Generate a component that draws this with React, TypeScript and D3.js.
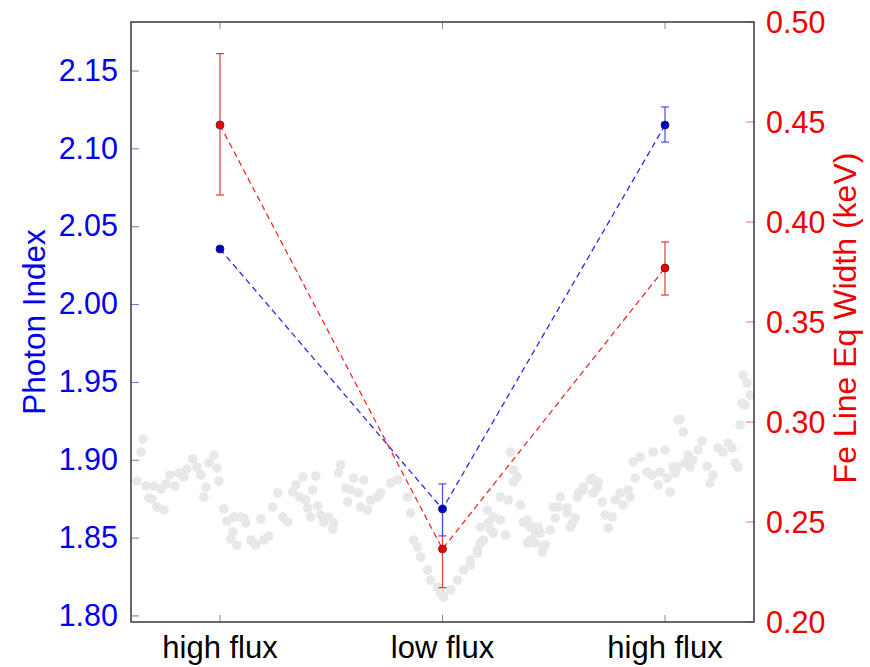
import React from "react";
import * as d3 from "d3";

const categories = ["high flux", "low flux", "high flux"];
const photonIndex = [2.0357, 1.8687, 2.1153];
const photonErrLow = [0.001, 0.0173, 0.0109];
const photonErrHigh = [0.001, 0.0161, 0.0116];
const feWidth = [0.4485, 0.2365, 0.377];
const feErrLow = [0.035, 0.0193, 0.0135];
const feErrHigh = [0.0357, 0.0193, 0.013];
const leftTicks = [1.8, 1.85, 1.9, 1.95, 2.0, 2.05, 2.1, 2.15];
const rightTicks = [0.2, 0.25, 0.3, 0.35, 0.4, 0.45, 0.5];

// faint background light curve (arbitrary time / rate units)
const bgTime = [12,10,6,15,23,30,18,21,26,33,35,39,44,48,53,56,62,66,70,83,78,86,88,75,73,93,96,102,100,106,110,123,103,
113,115,120,125,133,138,130,142,147,152,157,162,165,172,169,175,182,185,177,180,187,190,193,198,203,202,210,208,215,217,
223,233,220,228,237,230,240,250,260,267,247,277,280,283,287,290,297,300,307,313,310,320,327,333,340,347,353,350,360,363,370,375,357,370,378,383,380,387,390,397,403,410,400,413,423,430,437,440,447,453,460,463,
383,358,363,350,347,340,393,400,408,405,397,405,415,412,420,425,428,437,
442,445,448,453,462,468,467,472,475,482,478,485,490,493,498,500,505,503,510,517,522,530,528,523,535,537,540,543,548,
550,553,572,568,558,563,555,560,547,545,577,583,580,588,593,598,602,605,608,610,615,620,617,613,612];
const bgRate = [183,170,141,136,136,133,124,123,115,112,138,147,136,149,145,153,163,155,147,167,159,154,141,135,125,113,101,90,83,77,105,79,105,
104,99,82,77,82,86,103,115,129,105,100,130,137,145,125,122,132,146,114,105,116,107,100,105,99,93,157,149,134,120,
144,142,132,129,112,115,122,129,139,142,125,125,109,82,75,65,52,42,35,25,29,32,42,52,62,72,82,95,92,105,102,87,112,125,122,152,170,145,117,102,95,89,82,75,115,125,109,95,125,135,142,129,
140,99,89,79,69,57,100,95,95,89,79,79,77,70,92,104,115,114,
99,104,129,132,144,140,134,120,107,105,94,122,129,117,132,125,144,160,165,150,147,150,137,170,172,144,130,155,202,
203,190,181,172,167,162,159,155,155,149,156,147,139,174,170,179,174,159,155,197,217,227,239,247,219];

const W = 870, H = 667;
const L = 131, R = 754, T = 22, B = 622;
const FONT = "'Liberation Sans', Arial, Helvetica, sans-serif";

export default function App() {
  const x = d3.scaleLinear().domain([-0.4, 2.4]).range([L, R]);
  const yL = d3.scaleLinear().domain([1.7961, 2.1815]).range([B, T]);
  const yR = d3.scaleLinear().domain([0.2, 0.5]).range([B, T]);
  const bx = d3.scaleLinear().domain([0, 624]).range([L, R]);
  const by = d3.scaleLinear().domain([0, 600]).range([B, T]);
  const idx = categories.map((_, i) => i);
  const line = (ys: number[], sc: d3.ScaleLinear<number, number>) =>
    d3.line<number>().x((i) => x(i)).y((i) => sc(ys[i]))(idx) || "";

  const blue = "#0000ee";
  const red = "#ee0000";
  return (
    <svg width={W} height={H} style={{ position: "absolute", left: 0, top: 0, background: "#fff" }}>
      <rect x={0} y={0} width={W} height={H} fill="#fff" />
      {bgTime.map((t, i) => (
        <circle key={"bg" + i} cx={bx(t)} cy={by(bgRate[i])} r={4.8} fill="#e8e8e8" />
      ))}
      {/* dashed lines */}
      <path d={line(photonIndex, yL)} fill="none" stroke="#2a2aee" strokeWidth={1.3} strokeDasharray="6,4" />
      <path d={line(feWidth, yR)} fill="none" stroke="#ee2a2a" strokeWidth={1.3} strokeDasharray="6,4" />
      {/* error bars */}
      {idx.map((i) => {
        const y0 = yR(feWidth[i] - feErrLow[i]);
        const y1 = yR(feWidth[i] + feErrHigh[i]);
        return (
          <g key={"fe" + i} stroke="#e83a3a" strokeWidth={1.2}>
            <line x1={x(i)} x2={x(i)} y1={y0} y2={y1} />
            <line x1={x(i) - 4} x2={x(i) + 4} y1={y0} y2={y0} />
            <line x1={x(i) - 4} x2={x(i) + 4} y1={y1} y2={y1} />
          </g>
        );
      })}
      {idx.map((i) => {
        const y0 = yL(photonIndex[i] - photonErrLow[i]);
        const y1 = yL(photonIndex[i] + photonErrHigh[i]);
        return (
          <g key={"pi" + i} stroke="#4a4ae0" strokeWidth={1.2}>
            <line x1={x(i)} x2={x(i)} y1={y0} y2={y1} />
            <line x1={x(i) - 4} x2={x(i) + 4} y1={y0} y2={y0} />
            <line x1={x(i) - 4} x2={x(i) + 4} y1={y1} y2={y1} />
          </g>
        );
      })}
      {idx.map((i) => (
        <circle key={"pm" + i} cx={x(i)} cy={yL(photonIndex[i])} r={4} fill="#0000cc" stroke="#202050" strokeWidth={0.8} />
      ))}
      {idx.map((i) => (
        <circle key={"fm" + i} cx={x(i)} cy={yR(feWidth[i])} r={4} fill="#ee0000" stroke="#602020" strokeWidth={0.8} />
      ))}
      {/* ticks */}
      {leftTicks.map((t) => (
        <g key={"lt" + t}>
          <line x1={L} x2={L + 8} y1={yL(t)} y2={yL(t)} stroke="#7070d0" strokeWidth={1} />
          <text x={118} y={yL(t)} dy="0.32em" textAnchor="end" fill={blue} fontSize={30.5} fontFamily={FONT}>
            {t.toFixed(2)}
          </text>
        </g>
      ))}
      {rightTicks.map((t) => (
        <g key={"rt" + t}>
          <line x1={R - 8} x2={R} y1={yR(t)} y2={yR(t)} stroke="#e07070" strokeWidth={1} />
          <text x={766} y={yR(t)} dy="0.35em" textAnchor="start" fill={red} fontSize={30.5} fontFamily={FONT}>
            {t.toFixed(2)}
          </text>
        </g>
      ))}
      {idx.map((i) => (
        <g key={"xt" + i}>
          <line x1={x(i)} x2={x(i)} y1={B} y2={B - 7} stroke="#888" strokeWidth={1} />
          <line x1={x(i)} x2={x(i)} y1={T} y2={T + 7} stroke="#888" strokeWidth={1} />
          <text x={x(i)} y={658} textAnchor="middle" fill="#000" fontSize={31} fontFamily={FONT}>
            {categories[i]}
          </text>
        </g>
      ))}
      {/* frame */}
      <rect x={L} y={T} width={R - L} height={B - T} fill="none" stroke="#444" strokeWidth={1.6} />
      <text transform={`translate(45,${322}) rotate(-90)`} textAnchor="middle" fill={blue} fontSize={31.5} fontFamily={FONT}>
        Photon Index
      </text>
      <text transform={`translate(856,${318}) rotate(-90)`} textAnchor="middle" fill={red} fontSize={32} fontFamily={FONT}>
        Fe Line Eq Width (keV)
      </text>
    </svg>
  );
}
